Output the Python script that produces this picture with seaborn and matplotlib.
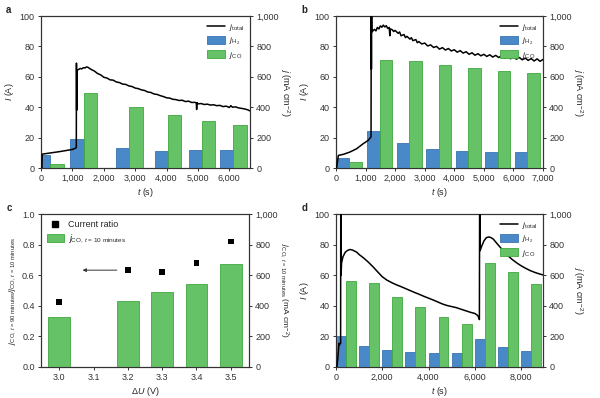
import numpy as np
import pandas as pd
import matplotlib
matplotlib.use("Agg")
import matplotlib.pyplot as plt
import seaborn as sns
from matplotlib.patches import Patch
from matplotlib.lines import Line2D
from matplotlib.ticker import FuncFormatter, MultipleLocator

# ---------------- data ----------------
# panel a
a_t = [0, 30, 40, 60, 200, 400, 600, 800, 1000, 1100, 1125, 1130, 1137, 1142, 1150, 1200, 1250, 1300,
       1350, 1400, 1450, 1500, 1550, 1600, 1700, 1800, 1900, 2000, 2100, 2200, 2300, 2400, 2500, 2600,
       2700, 2800, 2900, 3000, 3100, 3200, 3300, 3400, 3500, 3600, 3700, 3800, 3900, 4000, 4100, 4200,
       4300, 4400, 4500, 4600, 4700, 4800, 4900, 4950, 4960, 4970, 5000, 5100, 5200, 5300, 5400, 5500,
       5600, 5700, 5800, 5900, 6000, 6050, 6100, 6200, 6300, 6400, 6500, 6600, 6650]
a_j_total = [0, 0, 90, 92, 96, 102, 108, 115, 122, 130, 136, 690, 380, 640, 645, 648, 655, 652,
             660, 658, 665, 662, 655, 648, 638, 622, 613, 597, 592, 580, 578, 566, 562, 552,
             550, 540, 536, 526, 522, 514, 510, 500, 497, 487, 484, 476, 470, 462, 460, 452,
             450, 444, 446, 437, 440, 431, 432, 428, 385, 430, 422, 424, 418, 420, 414, 416,
             410, 412, 404, 407, 398, 410, 400, 402, 395, 392, 388, 382, 376]
a_pair_t = [300, 1360, 2810, 4050, 5130, 6130]
a_j_h2 = [86, 189, 132, 112, 116, 116]
a_j_co = [24, 491, 401, 346, 307, 283]

# panel b
b_t = [0, 20, 80, 250, 470, 700, 920, 1090, 1185, 1192, 1198, 1203, 1210, 1300, 1350, 1400, 1450, 1500,
       1550, 1600, 1650, 1700, 1750, 1800, 1820, 1830, 1900, 1950, 2000, 2100, 2150, 2200, 2300, 2350,
       2400, 2500, 2550, 2600, 2700, 2750, 2800, 2900, 3000, 3100, 3200, 3300, 3400, 3500, 3600, 3700,
       3800, 3900, 4000, 4100, 4200, 4300, 4400, 4500, 4600, 4700, 4800, 4900, 5000, 5100, 5200, 5300,
       5400, 5500, 5600, 5700, 5800, 5900, 6000, 6100, 6200, 6300, 6400, 6500, 6600, 6700, 6800, 6900,
       7000]
b_j_total = [0, 0, 83, 90, 105, 127, 160, 182, 205, 1100, 650, 1100, 895, 912, 902, 925, 915, 935,
             926, 940, 928, 936, 918, 925, 870, 915, 910, 898, 905, 886, 895, 870, 878, 858,
             866, 848, 857, 838, 845, 824, 832, 816, 822, 803, 810, 793, 800, 782, 792, 776,
             786, 770, 778, 762, 772, 756, 765, 748, 758, 742, 752, 738, 748, 734, 745, 730,
             741, 727, 738, 722, 733, 719, 730, 716, 727, 712, 723, 708, 720, 704, 718, 702,
             714]
b_pair_t = [450, 1480, 2480, 3470, 4480, 5470, 6470]
b_j_h2 = [68, 243, 162, 125, 114, 107, 103]
b_j_co = [42, 708, 702, 678, 656, 636, 627]

# panel c
c_voltage = ["3.0", "3.1", "3.2", "3.3", "3.4", "3.5"]
c_bar_voltage = ["3.0", "3.2", "3.3", "3.4", "3.5"]
c_j_co_10min = [330, 430, 490, 540, 675]
c_ratio = [0.425, 0.635, 0.62, 0.68, 0.82]

# panel d
d_t = [0, 40, 80, 110, 130, 150, 180, 200, 205, 212, 220, 240, 300, 400, 500, 600, 700, 800, 900,
       1000, 1200, 1400, 1600, 1800, 2000, 2200, 2400, 2600, 2800, 3000, 3200, 3400, 3600, 3800,
       4000, 4200, 4400, 4600, 4800, 5000, 5200, 5400, 5600, 5800, 6000, 6100, 6150, 6200, 6210,
       6222, 6230, 6300, 6400, 6500, 6600, 6700, 6800, 7000, 7200, 7400, 7600, 7800, 8000, 8200,
       8400, 8600, 8800, 8950]
d_j_total = [0, 0, 60, 120, 155, 145, 152, 155, 1100, 1100, 600, 680, 720, 750, 762, 768, 765, 758, 750,
             735, 712, 685, 655, 622, 590, 568, 552, 538, 526, 513, 500, 487, 475, 462,
             450, 438, 425, 412, 402, 395, 388, 378, 368, 358, 350, 340, 330, 310, 1100,
             1100, 760, 790, 825, 845, 850, 846, 836, 800, 765, 732, 705, 682, 662, 645,
             630, 618, 608, 602]
d_pair_t = [432, 1439, 2432, 3424, 4432, 5439, 6432, 7439, 8432]
d_j_h2 = [202, 135, 108, 100, 92, 92, 185, 130, 102]
d_j_co = [565, 552, 457, 394, 330, 280, 678, 620, 545]

# ---------------- style ----------------
sns.set_style("ticks")
plt.rcParams['font.family'] = ['Liberation Sans', 'DejaVu Sans']
plt.rcParams['mathtext.fontset'] = 'custom'
plt.rcParams['mathtext.rm'] = 'Liberation Sans'
plt.rcParams['mathtext.it'] = 'Liberation Sans:italic'
plt.rcParams['mathtext.bf'] = 'Liberation Sans:bold'
plt.rcParams['font.size'] = 6.5
plt.rcParams['axes.edgecolor'] = '#333333'
plt.rcParams['axes.linewidth'] = 0.8
plt.rcParams['xtick.color'] = '#333333'
plt.rcParams['ytick.color'] = '#333333'
plt.rcParams['xtick.major.size'] = 2.5
plt.rcParams['ytick.major.size'] = 2.5
plt.rcParams['xtick.major.width'] = 0.7
plt.rcParams['ytick.major.width'] = 0.7
plt.rcParams['xtick.labelsize'] = 6.5
plt.rcParams['ytick.labelsize'] = 6.5

BLUE = '#4a89c8'
BLUE_E = '#3a74b3'
GREEN = '#66c266'
GREEN_E = '#3fa83f'

comma = FuncFormatter(lambda v, p: f"{int(round(v)):,}")

fig = plt.figure(figsize=(6.0, 3.98), dpi=100)

W, H = 600.0, 398.0
def pos(l, t, r, b):
    return [l / W, 1 - b / H, (r - l) / W, (b - t) / H]

ylab_j = r'$j$ (mA cm$^{-2}$)'


def time_panel(rect, t, jt, pair_t, jh2, jco, width, xmax, xstep, label):
    ax = fig.add_axes(rect)
    ax2 = ax.twinx()
    ax2.bar(pair_t, jh2, width=-width, align='edge', color=BLUE, edgecolor=BLUE_E, linewidth=0.6, zorder=2)
    ax2.bar(pair_t, jco, width=width, align='edge', color=GREEN, edgecolor=GREEN_E, linewidth=0.6, zorder=2)
    df = pd.DataFrame({'t': t, 'j': jt})
    sns.lineplot(data=df, x='t', y='j', ax=ax2, color='black', lw=1.1, sort=False, zorder=3,
                 estimator=None, legend=False)
    ax.set_xlim(0, xmax)
    ax.set_ylim(0, 100)
    ax2.set_ylim(0, 1000)
    ax.yaxis.set_major_locator(MultipleLocator(20))
    ax2.yaxis.set_major_locator(MultipleLocator(200))
    ax.xaxis.set_major_locator(MultipleLocator(xstep))
    ax.xaxis.set_major_formatter(comma)
    ax2.yaxis.set_major_formatter(comma)
    ax.set_xlabel(r'$t$ (s)', labelpad=2)
    ax.set_ylabel(r'$I$ (A)', labelpad=3)
    ax2.set_ylabel(ylab_j, rotation=270, labelpad=9)
    ax.tick_params(direction='out', pad=2)
    ax2.tick_params(direction='out', pad=2)
    handles = [Line2D([], [], color='black', lw=1.1),
               Patch(facecolor=BLUE, edgecolor=BLUE_E, lw=0.6),
               Patch(facecolor=GREEN, edgecolor=GREEN_E, lw=0.6)]
    labels = [r'$j_{\rm total}$', r'$j_{\rm H_2}$', r'$j_{\rm CO}$']
    ax2.legend(handles, labels, loc='upper right', frameon=False, fontsize=6,
               handlelength=2.2, handleheight=1.0, handletextpad=0.4, labelspacing=0.35,
               borderaxespad=0.3)
    fig.text(rect[0] - 0.058, rect[1] + rect[3] + 0.008, label, fontweight='bold', fontsize=7)
    return ax, ax2


time_panel(pos(41, 16, 250, 168), a_t, a_j_total, a_pair_t, a_j_h2, a_j_co, 425, 6660, 1000, 'a')
time_panel(pos(336, 16, 543, 168), b_t, b_j_total, b_pair_t, b_j_h2, b_j_co, 415, 7000, 1000, 'b')
time_panel(pos(336, 214, 543, 367), d_t, d_j_total, d_pair_t, d_j_h2, d_j_co, 430, 8950, 2000, 'd')

# panel c
rect = pos(41, 214, 249, 367)
axc = fig.add_axes(rect)
axc2 = axc.twinx()
dfc = pd.DataFrame({'U': c_bar_voltage, 'j': c_j_co_10min})
sns.barplot(data=dfc, x='U', y='j', order=c_voltage, ax=axc2, color=GREEN, width=0.63,
            edgecolor=GREEN_E, linewidth=0.6, saturation=1, zorder=2)
xpos = [c_voltage.index(v) for v in c_bar_voltage]
sns.scatterplot(x=xpos, y=c_ratio, ax=axc, marker='s', color='black', s=16, edgecolor='none', zorder=3)
axc.set_xlim(-0.53, 5.53)
axc.set_ylim(0, 1.0)
axc2.set_ylim(0, 1000)
axc.yaxis.set_major_locator(MultipleLocator(0.2))
axc.yaxis.set_major_formatter(FuncFormatter(lambda v, p: f"{v:.1f}"))
axc2.yaxis.set_major_locator(MultipleLocator(200))
axc2.yaxis.set_major_formatter(comma)
axc.set_xticks(range(len(c_voltage)))
axc.set_xticklabels(c_voltage)
axc2.set_xlabel('')
axc.set_xlabel(r'$\Delta U$ (V)', labelpad=2)
axc.set_ylabel(r'$j_{\rm CO,\,\mathit{t}\,=\,90\ minutes}/j_{\rm CO,\,\mathit{t}\,=\,10\ minutes}$',
               fontsize=6, labelpad=3)
axc2.set_ylabel(r'$j_{\rm CO,\,\mathit{t}\,=\,10\ minutes}$ (mA cm$^{-2}$)', rotation=270,
                fontsize=6, labelpad=9)
axc.tick_params(direction='out', pad=2)
axc2.tick_params(direction='out', pad=2)
axc.annotate('', xy=(0.6, 0.633), xytext=(1.76, 0.633),
             arrowprops=dict(arrowstyle='-|>', color='#333333', lw=0.7, mutation_scale=5))
hc = [Line2D([], [], marker='s', color='black', ls='none', markersize=4),
      Patch(facecolor=GREEN, edgecolor=GREEN_E, lw=0.6)]
lc = ['Current ratio', r'$j_{\rm CO,\,\mathit{t}\,=\,10\ minutes}$']
axc2.legend(hc, lc, loc='upper left', frameon=False, fontsize=6.5, handlelength=1.8,
            handleheight=1.0, handletextpad=0.45, labelspacing=0.35, borderaxespad=0.3)
fig.text(rect[0] - 0.058, rect[1] + rect[3] + 0.008, 'c', fontweight='bold', fontsize=7)

fig.savefig('out.png', dpi=100)
